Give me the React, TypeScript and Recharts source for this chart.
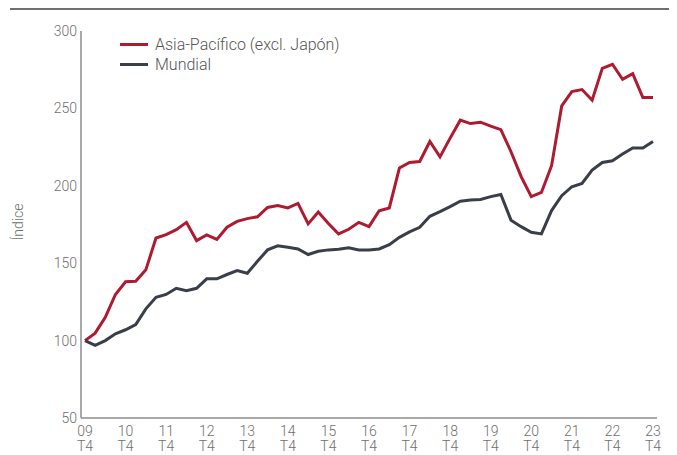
import React from "react";
import { LineChart, Line, XAxis, YAxis } from "recharts";

const quarters: string[] = [
  "09", "10a", "10b", "10c", "10", "11a", "11b", "11c", "11", "12a", "12b", "12c", "12",
  "13a", "13b", "13c", "13", "14a", "14b", "14c", "14", "15a", "15b", "15c", "15",
  "16a", "16b", "16c", "16", "17a", "17b", "17c", "17", "18a", "18b", "18c", "18",
  "19a", "19b", "19c", "19", "20a", "20b", "20c", "20", "21a", "21b", "21c", "21",
  "22a", "22b", "22c", "22", "23a", "23b", "23c", "23",
];

const tickLabels: string[] = ["09", "10", "11", "12", "13", "14", "15", "16", "17", "18", "19", "20", "21", "22", "23"];

const asiaPacifico: number[] = [
  100, 104.8, 115, 129.8, 138, 138.3, 145.7, 166.3, 168.5, 171.7, 176.4, 164.6, 168.3, 165.4, 173.2,
  177, 178.8, 180, 186, 187.3, 185.7, 188.6, 175.4, 183.1, 175.7, 168.9, 171.9, 176.4, 173.6,
  183.9, 185.7, 211.5, 215.1, 215.7, 228.6, 218.7, 230.8, 242.4, 240.2, 241.1, 238.5, 236.3,
  222, 205.9, 193, 195.7, 213, 251.6, 260.9, 262.2, 255.3, 275.9, 278.5, 268.8, 272.5, 257, 257,
];

const mundial: number[] = [
  100, 96.9, 100, 104.4, 107, 110.4, 120.5, 128, 129.8, 133.8, 132.3, 133.8, 139.9, 139.9, 142.7,
  145.2, 143.5, 151.2, 158.6, 161.2, 160.3, 159.2, 155.6, 157.7, 158.6, 159, 159.9, 158.6, 158.6,
  159.2, 162, 166.7, 170.2, 173.2, 180.3, 183.3, 186.5, 190, 190.8, 191.2, 193, 194.4,
  177.8, 173.6, 170, 168.9, 184, 193.6, 199.4, 201.5, 210.2, 215.1, 216.2, 220.5, 224.4, 224.4, 228.6,
];

const yTicks: number[] = [50, 100, 150, 200, 250, 300];

const seriesNames: string[] = ["Asia-Pacífico (excl. Japón)", "Mundial"];

const RED = "#AE1A2F";
const DARK = "#3A3E48";
const TEXT = "#6E6E6E";
const AXIS = "#8C8C8C";
const FONT = "Roboto, 'Noto Sans', sans-serif";

const data = quarters.map((q, i) => ({ q, asia: asiaPacifico[i], mundial: mundial[i] }));

const XTick = (props: any) => {
  const { x, y, payload } = props;
  const v = String(payload.value);
  if (v.length > 2 || !tickLabels.includes(v)) return null;
  return (
    <text x={x} y={y} textAnchor="middle" fill={TEXT} fontSize={14} fontFamily={FONT} fontWeight={300}>
      <tspan x={x} dy={18}>{v}</tspan>
      <tspan x={x} dy={15}>T4</tspan>
    </text>
  );
};

const YLabel = () => (
  <text
    x={10}
    y={214}
    transform="rotate(-90, 10, 214)"
    textAnchor="middle"
    dominantBaseline="central"
    fill={TEXT}
    fontSize={14}
    fontFamily={FONT}
    fontWeight={300}
  >
    Índice
  </text>
);

export default function App() {
  const colors = [RED, DARK];
  return (
    <div style={{ position: "relative", width: 669, height: 445 }}>
      <div style={{ position: "absolute", top: 0, left: 2, right: 0, height: 2, background: "#6F6F6F" }} />
      <div
        style={{
          position: "absolute",
          top: 26,
          left: 112,
          fontFamily: FONT,
          fontWeight: 300,
          fontSize: 16,
          color: "#555",
          zIndex: 2,
        }}
      >
        {seriesNames.map((name, i) => (
          <div key={name} style={{ display: "flex", alignItems: "center", height: 20 }}>
            <span style={{ display: "inline-block", width: 28, height: 3, background: colors[i], marginRight: 7 }} />
            <span>{name}</span>
          </div>
        ))}
      </div>
      <LineChart width={669} height={445} data={data} margin={{ top: 23, right: 20, bottom: 5, left: 0 }}>
        <XAxis
          dataKey="q"
          interval={0}
          tick={<XTick />}
          tickLine={false}
          tickSize={0}
          tickMargin={0}
          axisLine={{ stroke: AXIS, strokeWidth: 1.5 }}
          padding={{ left: 4, right: 4 }}
          height={30}
        />
        <YAxis
          domain={[50, 300]}
          ticks={yTicks}
          width={73}
          tickLine={false}
          tickSize={0}
          tickMargin={4}
          axisLine={{ stroke: AXIS, strokeWidth: 1.5 }}
          tick={{ fill: TEXT, fontSize: 14, fontFamily: FONT, fontWeight: 300 }}
          label={{ content: () => <YLabel /> }}
        />
        <Line type="linear" dataKey="asia" stroke={RED} strokeWidth={3} dot={false} isAnimationActive={false} />
        <Line type="linear" dataKey="mundial" stroke={DARK} strokeWidth={3} dot={false} isAnimationActive={false} />
      </LineChart>
    </div>
  );
}
